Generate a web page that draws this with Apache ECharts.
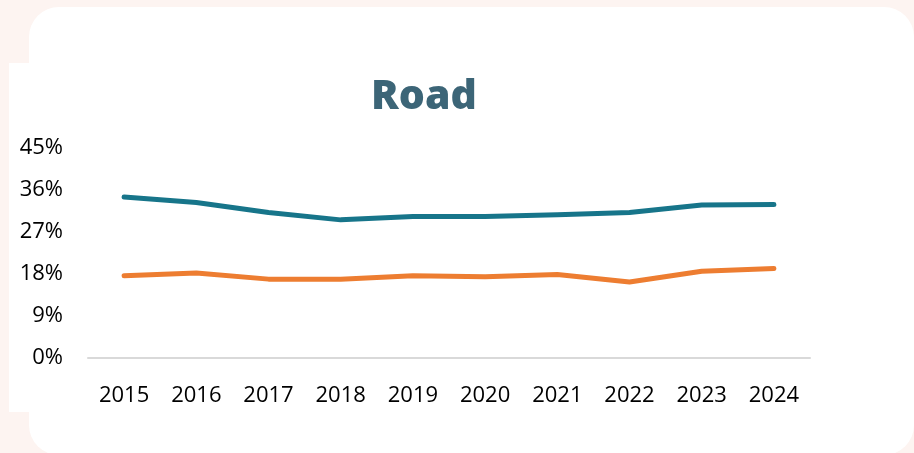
<!DOCTYPE html>
<html>
<head>
<meta charset="utf-8">
<script src="https://cdn.jsdelivr.net/npm/echarts@6/dist/echarts.min.js"></script>
<style>
  html, body { margin: 0; padding: 0; background: #fdf4f1; }
  #wrap { position: relative; width: 914px; height: 453px; overflow: hidden; }
  .card { position: absolute; left: 29px; top: 7px; width: 885px; height: 448px; background: #fff; border-radius: 30px; }
  .strip { position: absolute; left: 9px; top: 63px; width: 700px; height: 349px; background: #fff; }
  #main { position: absolute; left: 0; top: 0; width: 914px; height: 453px; }
</style>
</head>
<body>
<div id="wrap">
  <div class="card"></div>
  <div class="strip"></div>
  <div id="main"></div>
</div>
<script>
// values, in percent
const years = ["2015", "2016", "2017", "2018", "2019", "2020", "2021", "2022", "2023", "2024"];
const tealSeries = [34.5, 33.3, 31.2, 29.6, 30.3, 30.3, 30.7, 31.2, 32.8, 32.9];
const orangeSeries = [17.6, 18.2, 16.9, 16.9, 17.6, 17.4, 17.9, 16.3, 18.6, 19.2];
const yTicks = [0, 9, 18, 27, 36, 45];

let myChart = echarts.init(document.getElementById("main"));
let option = {
  backgroundColor: "transparent",
  animation: false,
  title: {
    text: "Road",
    left: 419,
    top: 72,
    textAlign: "center",
    textStyle: {
      fontFamily: "Open Sans",
      fontWeight: 800,
      fontSize: 41,
      color: "#3c6577"
    }
  },
  grid: { left: 88, right: 104, top: 148, bottom: 95 },
  xAxis: {
    type: "category",
    data: years,
    boundaryGap: true,
    axisLine: { lineStyle: { color: "#d9d9d9", width: 2 } },
    axisTick: { show: false },
    axisLabel: {
      color: "#000",
      fontFamily: "Open Sans",
      fontSize: 22,
      margin: 27
    }
  },
  yAxis: {
    type: "value",
    min: yTicks[0],
    max: yTicks[yTicks.length - 1],
    interval: 9,
    splitLine: { show: false },
    axisLine: { show: false },
    axisTick: { show: false },
    axisLabel: {
      color: "#000",
      fontFamily: "Open Sans",
      fontSize: 22,
      margin: 25,
      formatter: "{value}%"
    }
  },
  series: [
    {
      name: "Teal",
      type: "line",
      data: tealSeries,
      symbol: "none",
      lineStyle: { color: "#17758a", width: 5, cap: "round", join: "round" }
    },
    {
      name: "Orange",
      type: "line",
      data: orangeSeries,
      symbol: "none",
      lineStyle: { color: "#ed7d31", width: 5, cap: "round", join: "round" }
    }
  ]
};
myChart.setOption(option);
</script>
</body>
</html>
